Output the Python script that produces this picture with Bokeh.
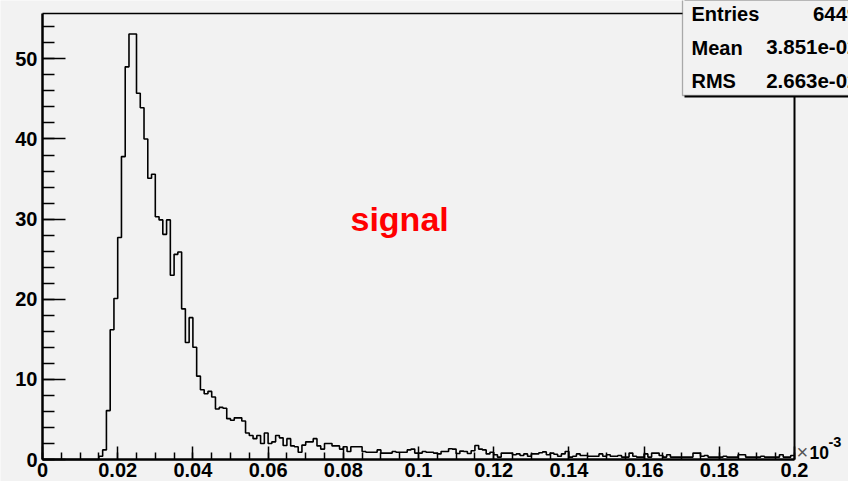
import numpy as np
from bokeh.plotting import figure
from bokeh.models import (Range1d, SingleIntervalTicker, FixedTicker, LinearAxis, Label,
                          BoxAnnotation, CustomJSTickFormatter)
from bokeh.embed import file_html
from bokeh.resources import INLINE

# ---------------- data ----------------
x_min, x_max = 0.0, 0.2
n_bins = 200
y_max = 55.66

# bin contents, bins 0..199 (width 0.001)
counts_empty = [0.0] * 15                                   # bins 0-14
counts_rise = [0.4, 1.2, 6.1, 16.2, 20.1, 27.7, 37.8, 49.0]  # bins 15-22
counts_peak = [53.1, 53.1, 45.7, 43.9, 40.0, 35.1, 35.6, 30.3,
               29.9, 28.1, 29.9, 23.0, 25.6, 25.9, 18.8, 14.6,
               17.7, 14.0, 10.4, 8.7, 8.2, 8.5, 7.8]          # bins 23-45
counts_fall = [6.3, 6.5, 6.4, 5.1, 4.9, 5.2, 5.2, 4.8, 3.3, 3.0,
               2.6, 3.0, 2.0, 3.3, 2.0, 2.2, 3.0, 2.7, 1.75, 2.6]  # bins 46-65
counts_tail1 = [1.7, 1.6, 0.9, 1.8, 2.2, 2.2, 2.6, 1.7, 1.3, 2.0,
                2.0, 1.7, 1.7, 1.3, 1.6, 1.0, 1.6, 1.6, 1.6, 1.0,
                0.9, 0.9, 0.9, 1.2, 0.8, 0.8, 0.8, 1.0, 0.9, 0.9,
                0.9, 1.2, 1.3, 0.8, 0.8, 1.0, 0.9]            # bins 66-102
counts_tail2 = [0.9, 0.8, 0.7, 1.0, 1.0, 1.35, 1.3, 0.75, 1.05, 1.0,
                0.75, 1.1, 1.75, 1.3, 1.2, 0.7, 0.9, 0.6, 0.3, 0.8,
                0.8, 0.8, 0.6, 0.7, 0.5, 0.7, 0.4, 0.7, 0.7, 0.85,
                0.95, 0.6, 0.8, 0.65, 0.4, 0.7, 1.0, 0.3, 0.4, 0.7,
                0.5, 0.5, 0.4, 0.4, 0.4, 0.7, 0.4, 0.6, 0.4, 0.4]  # bins 103-152
counts_tail3 = [0.5, 0.3, 0.3, 0.8, 0.4, 0.3, 0.3, 0.7, 0.3, 0.8,
                0.8, 0.5, 0.3, 0.6, 0.3, 0.3, 0.3, 0.3, 0.3, 0.3,
                0.8, 0.8, 0.4, 0.5, 0.3, 0.3, 0.3, 0.3, 0.4, 0.3,
                0.3, 0.3, 0.6, 0.6, 0.3, 0.3, 0.3, 0.3, 0.4, 0.3,
                0.3, 0.3, 0.3, 0.6, 0.3, 0.3, 0.5]            # bins 153-199

counts = (counts_empty + counts_rise + counts_peak + counts_fall
          + counts_tail1 + counts_tail2 + counts_tail3)
assert len(counts) == n_bins, len(counts)

x_tick_labels = ["0", "0.02", "0.04", "0.06", "0.08", "0.1",
                 "0.12", "0.14", "0.16", "0.18", "0.2"]
stat_names = ["Entries", "Mean", "RMS"]
stat_values = ["6449", "3.851e-02", "2.663e-02"]
title_text = "signal"

# ---------------- layout ----------------
W, H = 848, 481
FL, FR, FT, FB = 42, 794, 13, 459          # histogram frame in canvas pixels
BG = "#f2f2f2"
FONT = "Liberation Sans"

# the plotting frame spans the whole canvas; ranges chosen so that the
# histogram box (x_min..x_max, 0..y_max) lands on FL..FR, FB..FT
kx = (FR - FL) / (x_max - x_min)
ky = (FB - FT) / y_max
xr = Range1d(x_min - FL / kx, x_max + (W - FR) / kx)
yr = Range1d(0 - (H - FB) / ky, y_max + FT / ky)

edges = np.linspace(x_min, x_max, n_bins + 1)
ys = counts + [counts[-1]]

p = figure(width=W, height=H, x_range=xr, y_range=yr,
           output_backend="svg", toolbar_location=None,
           min_border=0, min_border_left=0, min_border_right=0,
           min_border_top=0, min_border_bottom=0,
           background_fill_color=BG, border_fill_color=BG, outline_line_color=None)
p.grid.visible = False

p.step(x=edges, y=ys, mode="after", line_color="black", line_width=1.6)

xa = p.xaxis[0]
xa.fixed_location = 0
xa.bounds = (x_min, x_max)
xa.ticker = SingleIntervalTicker(interval=0.02, num_minor_ticks=4)
xa.formatter = CustomJSTickFormatter(args=dict(labels=x_tick_labels),
                                     code="return labels[Math.round(tick/0.02)];")
xa.major_tick_in = 13
xa.major_tick_out = 0
xa.minor_tick_in = 7
xa.minor_tick_out = 0
xa.axis_line_width = 2.5
xa.major_tick_line_width = 1.5
xa.minor_tick_line_width = 1.5
xa.major_label_text_font = FONT
xa.major_label_text_font_style = "bold"
xa.major_label_text_font_size = "20px"
xa.major_label_text_color = "black"
xa.major_label_standoff = 3

ya = p.yaxis[0]
ya.fixed_location = 0
ya.bounds = (0, y_max)
ya.ticker = SingleIntervalTicker(interval=10, num_minor_ticks=5)
ya.major_tick_in = 23
ya.major_tick_out = 0
ya.minor_tick_in = 12
ya.minor_tick_out = 0
ya.axis_line_width = 2.5
ya.major_tick_line_width = 1.5
ya.minor_tick_line_width = 1.5
ya.major_label_text_font = FONT
ya.major_label_text_font_style = "bold"
ya.major_label_text_font_size = "20px"
ya.major_label_text_color = "black"
ya.major_label_standoff = 5

top_ax = LinearAxis(ticker=FixedTicker(ticks=[]), axis_line_width=1.3,
                    fixed_location=y_max, bounds=(x_min, x_max),
                    major_tick_in=0, major_tick_out=0, minor_tick_in=0, minor_tick_out=0,
                    major_label_text_font_size="0px")
p.add_layout(top_ax, "above")
right_ax = LinearAxis(ticker=FixedTicker(ticks=[]), axis_line_width=2.0,
                      fixed_location=x_max, bounds=(0, y_max),
                      major_tick_in=0, major_tick_out=0, minor_tick_in=0, minor_tick_out=0,
                      major_label_text_font_size="0px")
p.add_layout(right_ax, "right")

def sy(cy):
    return H - cy

def text_label(cx, baseline, text, size, **kw):
    # vertical centre of the em box sits ~0.35 em above the baseline
    return Label(x=cx, y=sy(baseline - 0.35 * size), x_units="screen", y_units="screen",
                 text=text, text_font=FONT, text_font_size=f"{size}px",
                 text_baseline="middle", **kw)

# title text
p.add_layout(text_label(350, 230, title_text, 34, text_color="#ff0000",
                        text_font_style="bold"))

# statistics box (with shadow)
p.add_layout(BoxAnnotation(left=684, right=900, bottom=sy(97), top=sy(-10),
                           left_units="screen", right_units="screen",
                           bottom_units="screen", top_units="screen",
                           fill_color="black", fill_alpha=1.0, line_color=None))
p.add_layout(BoxAnnotation(left=682, right=895, bottom=sy(95), top=sy(-10),
                           left_units="screen", right_units="screen",
                           bottom_units="screen", top_units="screen",
                           fill_color=BG, fill_alpha=1.0, line_color="black",
                           line_width=1.3))
for i, (nm, val) in enumerate(zip(stat_names, stat_values)):
    base = 20.7 + 33.3 * i
    p.add_layout(text_label(691, base, nm, 20, text_font_style="bold", text_color="black"))
    p.add_layout(text_label(858, base, val, 20.5, text_font_style="bold", text_color="black",
                            text_align="right"))

# axis exponent  x10^-3
p.add_layout(text_label(796, 458, "×", 20, text_color="#555555"))
p.add_layout(text_label(809, 458, "10", 17.5, text_font_style="bold", text_color="black"))
p.add_layout(text_label(828, 447, "-3", 14.5, text_font_style="bold", text_color="black"))

open("out.html", "w").write(file_html(p, INLINE))
